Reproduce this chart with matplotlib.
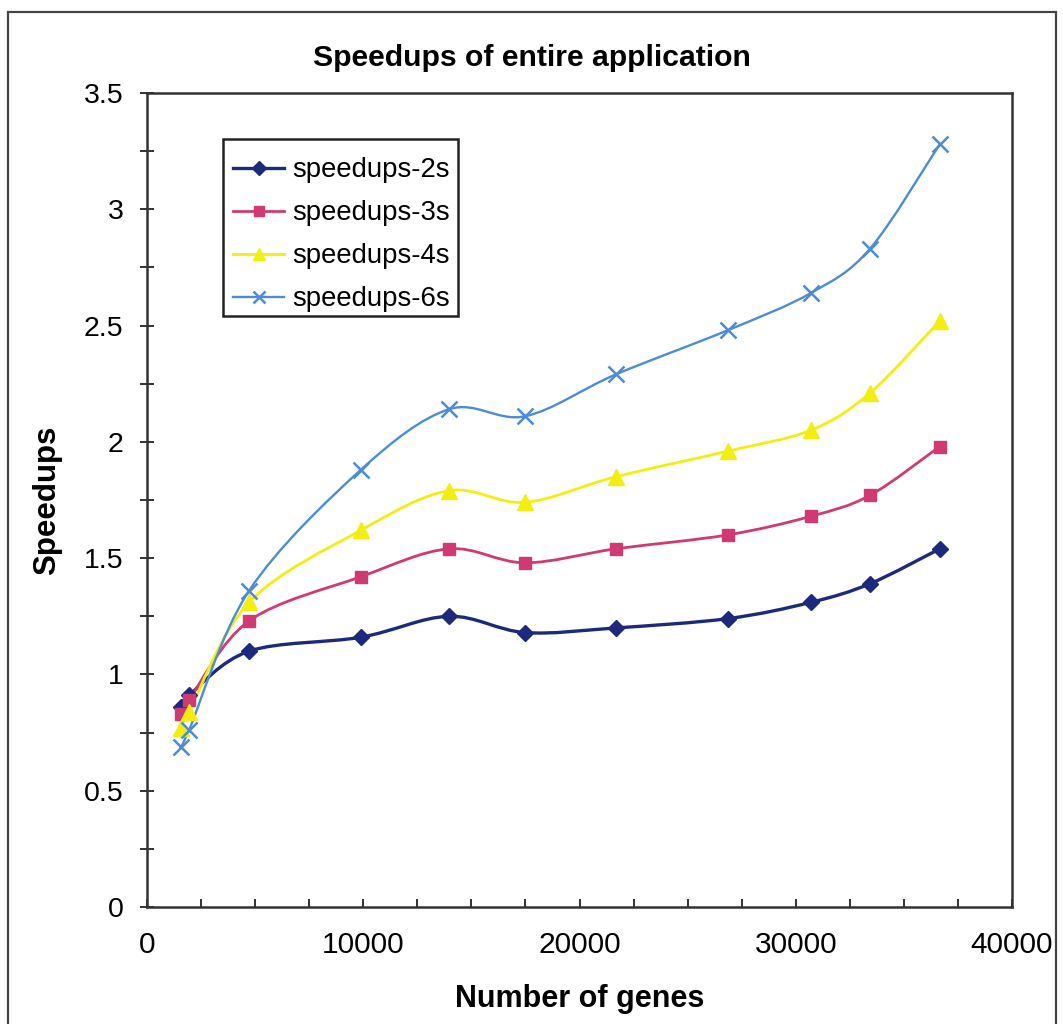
import numpy as np
import matplotlib
matplotlib.use("Agg")
import matplotlib.pyplot as plt
from matplotlib.path import Path
from matplotlib.patches import PathPatch, Rectangle
from matplotlib.lines import Line2D
from matplotlib.ticker import MultipleLocator, FuncFormatter

plt.rcParams['font.family'] = ['Liberation Sans', 'DejaVu Sans']

# Number of genes for each run
genes = [1550, 1940, 4720, 9890, 13960, 17480, 21680, 26860, 30700, 33430, 36660]

# Speedups of the whole application per configuration
speedups_2s = [0.86, 0.91, 1.10, 1.16, 1.25, 1.18, 1.20, 1.24, 1.31, 1.39, 1.54]
speedups_3s = [0.83, 0.89, 1.23, 1.42, 1.54, 1.48, 1.54, 1.60, 1.68, 1.77, 1.98]
speedups_4s = [0.77, 0.84, 1.31, 1.62, 1.79, 1.74, 1.85, 1.96, 2.05, 2.21, 2.52]
speedups_6s = [0.69, 0.76, 1.36, 1.88, 2.14, 2.11, 2.29, 2.48, 2.64, 2.83, 3.28]

series_labels = ['speedups-2s', 'speedups-3s', 'speedups-4s', 'speedups-6s']


def smooth_path(xs, ys):
    """Catmull-Rom style cubic Bezier path through the points (spreadsheet 'smoothed line')."""
    pts = np.column_stack([xs, ys]).astype(float)
    n = len(pts)
    verts = [pts[0]]
    codes = [Path.MOVETO]
    for i in range(n - 1):
        p0 = pts[i - 1] if i > 0 else pts[i]
        p1 = pts[i]
        p2 = pts[i + 1]
        p3 = pts[i + 2] if i + 2 < n else pts[i + 1]
        c1 = p1 + (p2 - p0) / 6.0
        c2 = p2 - (p3 - p1) / 6.0
        verts += [c1, c2, p2]
        codes += [Path.CURVE4] * 3
    return Path(verts, codes)


W, H = 1063, 1024
fig = plt.figure(figsize=(W / 100, H / 100), dpi=100)
fig.patch.set_facecolor('white')

left, right, top, bottom = 147, 1012, 93, 907
ax = fig.add_axes([left / W, 1 - bottom / H, (right - left) / W, (bottom - top) / H])

styles = [
    dict(color='#1c2a7e', marker='D', ms=8.5, lw=2.4, mew=1.0),
    dict(color='#d03a72', marker='s', ms=8.5, lw=2.0, mew=1.0),
    dict(color='#f4ee10', marker='^', ms=11, lw=2.0, mew=1.0),
    dict(color='#4c8cd6', marker='x', ms=11, lw=1.7, mew=1.8),
]
data = [speedups_2s, speedups_3s, speedups_4s, speedups_6s]

handles = []
for ys, st, lab in zip(data, styles, series_labels):
    patch = PathPatch(smooth_path(genes, ys), fill=False, edgecolor=st['color'],
                      lw=st['lw'], capstyle='round', joinstyle='round', zorder=3)
    ax.add_patch(patch)
    ax.plot(genes, ys, linestyle='none', marker=st['marker'], ms=st['ms'],
            color=st['color'], mec=st['color'], mew=st['mew'], zorder=4)
    handles.append(Line2D([], [], color=st['color'], lw=st['lw'], marker=st['marker'],
                          ms=st['ms'] * 0.85, mew=st['mew'], mec=st['color'], label=lab))

ax.set_xlim(0, 40000)
ax.set_ylim(0, 3.5)

ax.xaxis.set_major_locator(MultipleLocator(10000))
ax.xaxis.set_minor_locator(MultipleLocator(2500))
ax.yaxis.set_major_locator(MultipleLocator(0.5))
ax.yaxis.set_minor_locator(MultipleLocator(0.25))
ax.yaxis.set_major_formatter(FuncFormatter(lambda v, p: f'{v:g}'))
ax.xaxis.set_major_formatter(FuncFormatter(lambda v, p: f'{v:.0f}'))

ax.tick_params(axis='x', which='both', direction='in', length=6, width=1.3,
               color='#222222', labelsize=21.5, pad=17, top=False)
ax.tick_params(axis='y', which='both', direction='inout', length=10, width=1.3,
               color='#222222', labelsize=20.5, pad=12, right=False)

for sp in ax.spines.values():
    sp.set_linewidth(1.8)
    sp.set_color('#333333')

ax.set_xlabel('Number of genes', fontsize=22, fontweight='bold', labelpad=18)
ax.set_ylabel('Speedups', fontsize=22.5, fontweight='bold')
ax.yaxis.set_label_coords((62 - left) / (right - left), 0.5)

fig.text(532 / W, 1 - 58 / H, 'Speedups of entire application', ha='center', va='center',
         fontsize=21.7, fontweight='bold')

# Legend box drawn as its own rectangle, entries placed on top of it
legend_box = Rectangle((223 / W, 1 - 316 / H), (458 - 223) / W, (316 - 139) / H,
                       transform=fig.transFigure, facecolor='white',
                       edgecolor='#222222', lw=1.8, zorder=5, clip_on=False)
ax.add_patch(legend_box)
leg = ax.legend(handles=handles, loc='upper left',
                bbox_to_anchor=(225 / W, 1 - 149 / H), bbox_transform=fig.transFigure,
                borderaxespad=0, fontsize=19.8, frameon=False,
                handlelength=1.85, handletextpad=0.3,
                labelspacing=0.62, borderpad=0.3)
leg.set_zorder(6)

# Outer frame around the whole chart
fig.patches.append(Rectangle((8 / W, -0.02), (1056 - 8) / W, 1 - 12 / H + 0.02,
                             transform=fig.transFigure, fill=False,
                             edgecolor='#444444', lw=1.6))

fig.savefig('out.png', dpi=100)
